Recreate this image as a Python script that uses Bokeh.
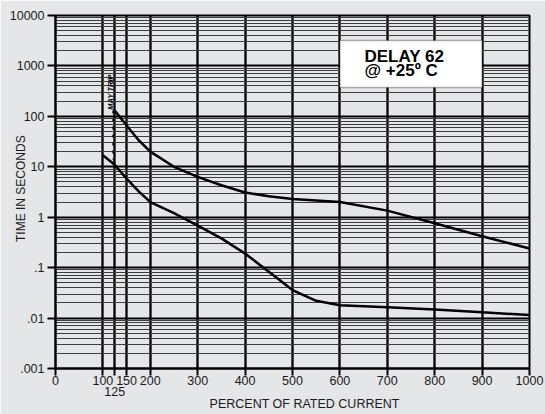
from bokeh.plotting import figure
from bokeh.models import FixedTicker, Label, BoxAnnotation, LinearAxis
from bokeh.embed import file_html
from bokeh.resources import INLINE

# ---- data ----
upper_pct = [125, 150, 175, 200, 250, 300, 350, 400, 450, 500, 550, 600, 700, 800, 900, 1000]
upper_sec = [130, 66, 34, 20, 10, 6.3, 4.3, 3.1, 2.6, 2.3, 2.15, 2.0, 1.35, 0.76, 0.42, 0.24]
lower_pct = [100, 125, 150, 175, 200, 250, 300, 350, 400, 450, 500, 550, 600, 700, 800, 900, 1000]
lower_sec = [17, 11, 5.8, 3.3, 2.0, 1.2, 0.68, 0.38, 0.19, 0.083, 0.036, 0.022, 0.018, 0.0163, 0.0148, 0.013, 0.0115]
trip_pct = [121.5, 121.5]
trip_sec = [130, 14]

x_ticks = [0, 100, 125, 150, 200, 300, 400, 500, 600, 700, 800, 900, 1000]
x_tick_labels = ["0", "100", "", "150", "200", "300", "400", "500", "600", "700", "800", "900", "1000"]
x_second_row = [125]
y_ticks = [0.001, 0.01, 0.1, 1, 10, 100, 1000, 10000]
y_tick_labels = [".001", ".01", ".1", "1", "10", "100", "1000", "10000"]
y_minor = [m * d for d in y_ticks[:-1] for m in range(2, 10)]

title_lines = ["DELAY 62", "@ +25\u00ba C"]
x_title = "PERCENT OF RATED CURRENT"
y_title = "TIME IN SECONDS"

BG = "#e5e6e8"
FONT = "Liberation Sans"
TXT = "#1a1a1a"

p = figure(width=545, height=414, x_range=(0, 1000), y_range=(0.001, 10000),
           y_axis_type="log", output_backend="svg", toolbar_location=None, title=None,
           min_border_left=55, min_border_right=16, min_border_top=15, min_border_bottom=46)
p.background_fill_color = BG
p.border_fill_color = BG
p.outline_line_color = "black"
p.outline_line_width = 2

# axes
p.xaxis.ticker = FixedTicker(ticks=x_ticks)
p.xaxis.major_label_overrides = dict(zip(x_ticks, x_tick_labels))
p.yaxis.ticker = FixedTicker(ticks=y_ticks, minor_ticks=y_minor)
p.yaxis.major_label_overrides = dict(zip(y_ticks, y_tick_labels))
for ax in (p.xaxis[0], p.yaxis[0]):
    ax.axis_line_color = "black"
    ax.axis_line_width = 2
    ax.major_tick_line_color = "black"
    ax.major_tick_line_width = 2
    ax.major_tick_in = 0
    ax.minor_tick_in = 0
    ax.minor_tick_out = 0
    ax.major_label_text_font = FONT
    ax.major_label_text_font_size = "12.5px"
    ax.major_label_text_color = TXT
p.xaxis.major_tick_out = 7
p.xaxis.major_label_standoff = 0
p.yaxis.major_tick_out = 8
p.yaxis.major_label_standoff = 3
p.yaxis.axis_label = "\u00a0\u00a0" + y_title
p.yaxis.axis_label_standoff = -21
p.yaxis.axis_label_text_font = FONT
p.yaxis.axis_label_text_font_size = "12px"
p.yaxis.axis_label_text_font_style = "normal"
p.yaxis.axis_label_text_color = TXT

# second row of x tick labels (125) + x title
ax2 = LinearAxis(ticker=FixedTicker(ticks=x_second_row), axis_line_color=None,
                 major_tick_line_color=None, major_tick_out=0, major_tick_in=0,
                 minor_tick_out=0, minor_tick_in=0, major_label_standoff=-1,
                 major_label_text_font=FONT, major_label_text_font_size="12.5px",
                 major_label_text_color=TXT,
                 axis_label="\u00a0" * 7 + x_title, axis_label_standoff=-2,
                 axis_label_text_font=FONT, axis_label_text_font_size="12.5px",
                 axis_label_text_font_style="normal", axis_label_text_color=TXT)
p.add_layout(ax2, "below")

# grids
p.xgrid.grid_line_color = "black"
p.xgrid.grid_line_width = 2.3
p.ygrid.grid_line_color = "black"
p.ygrid.grid_line_width = 2
p.ygrid.minor_grid_line_color = "#3c3c3c"
p.ygrid.minor_grid_line_width = 1

# curves
p.line(upper_pct, upper_sec, line_color="black", line_width=2.5)
p.line(lower_pct, lower_sec, line_color="black", line_width=2.5)
p.line(trip_pct, trip_sec, line_color="black", line_width=1.5, line_dash="3 5")

# text box
p.add_layout(BoxAnnotation(left=600, right=900, bottom=373, top=3190,
                           fill_color="white", fill_alpha=1.0,
                           line_color="black", line_width=1.5))
for txt, yy in zip(title_lines, [312.5, 298]):
    p.add_layout(Label(x=309, y=yy, x_units="screen", y_units="screen", text=txt,
                       text_font=FONT, text_font_size="17px", text_font_style="bold",
                       text_color="black", text_align="left", text_baseline="middle"))

p.add_layout(Label(x=116, y=276.5, y_units="screen", text="MAY TRIP", angle=90, angle_units="deg",
                   text_font=FONT, text_font_size="7.5px", text_font_style="bold italic",
                   text_color="black", text_align="center", text_baseline="middle"))

open("out.html", "w").write(file_html(p, INLINE))
